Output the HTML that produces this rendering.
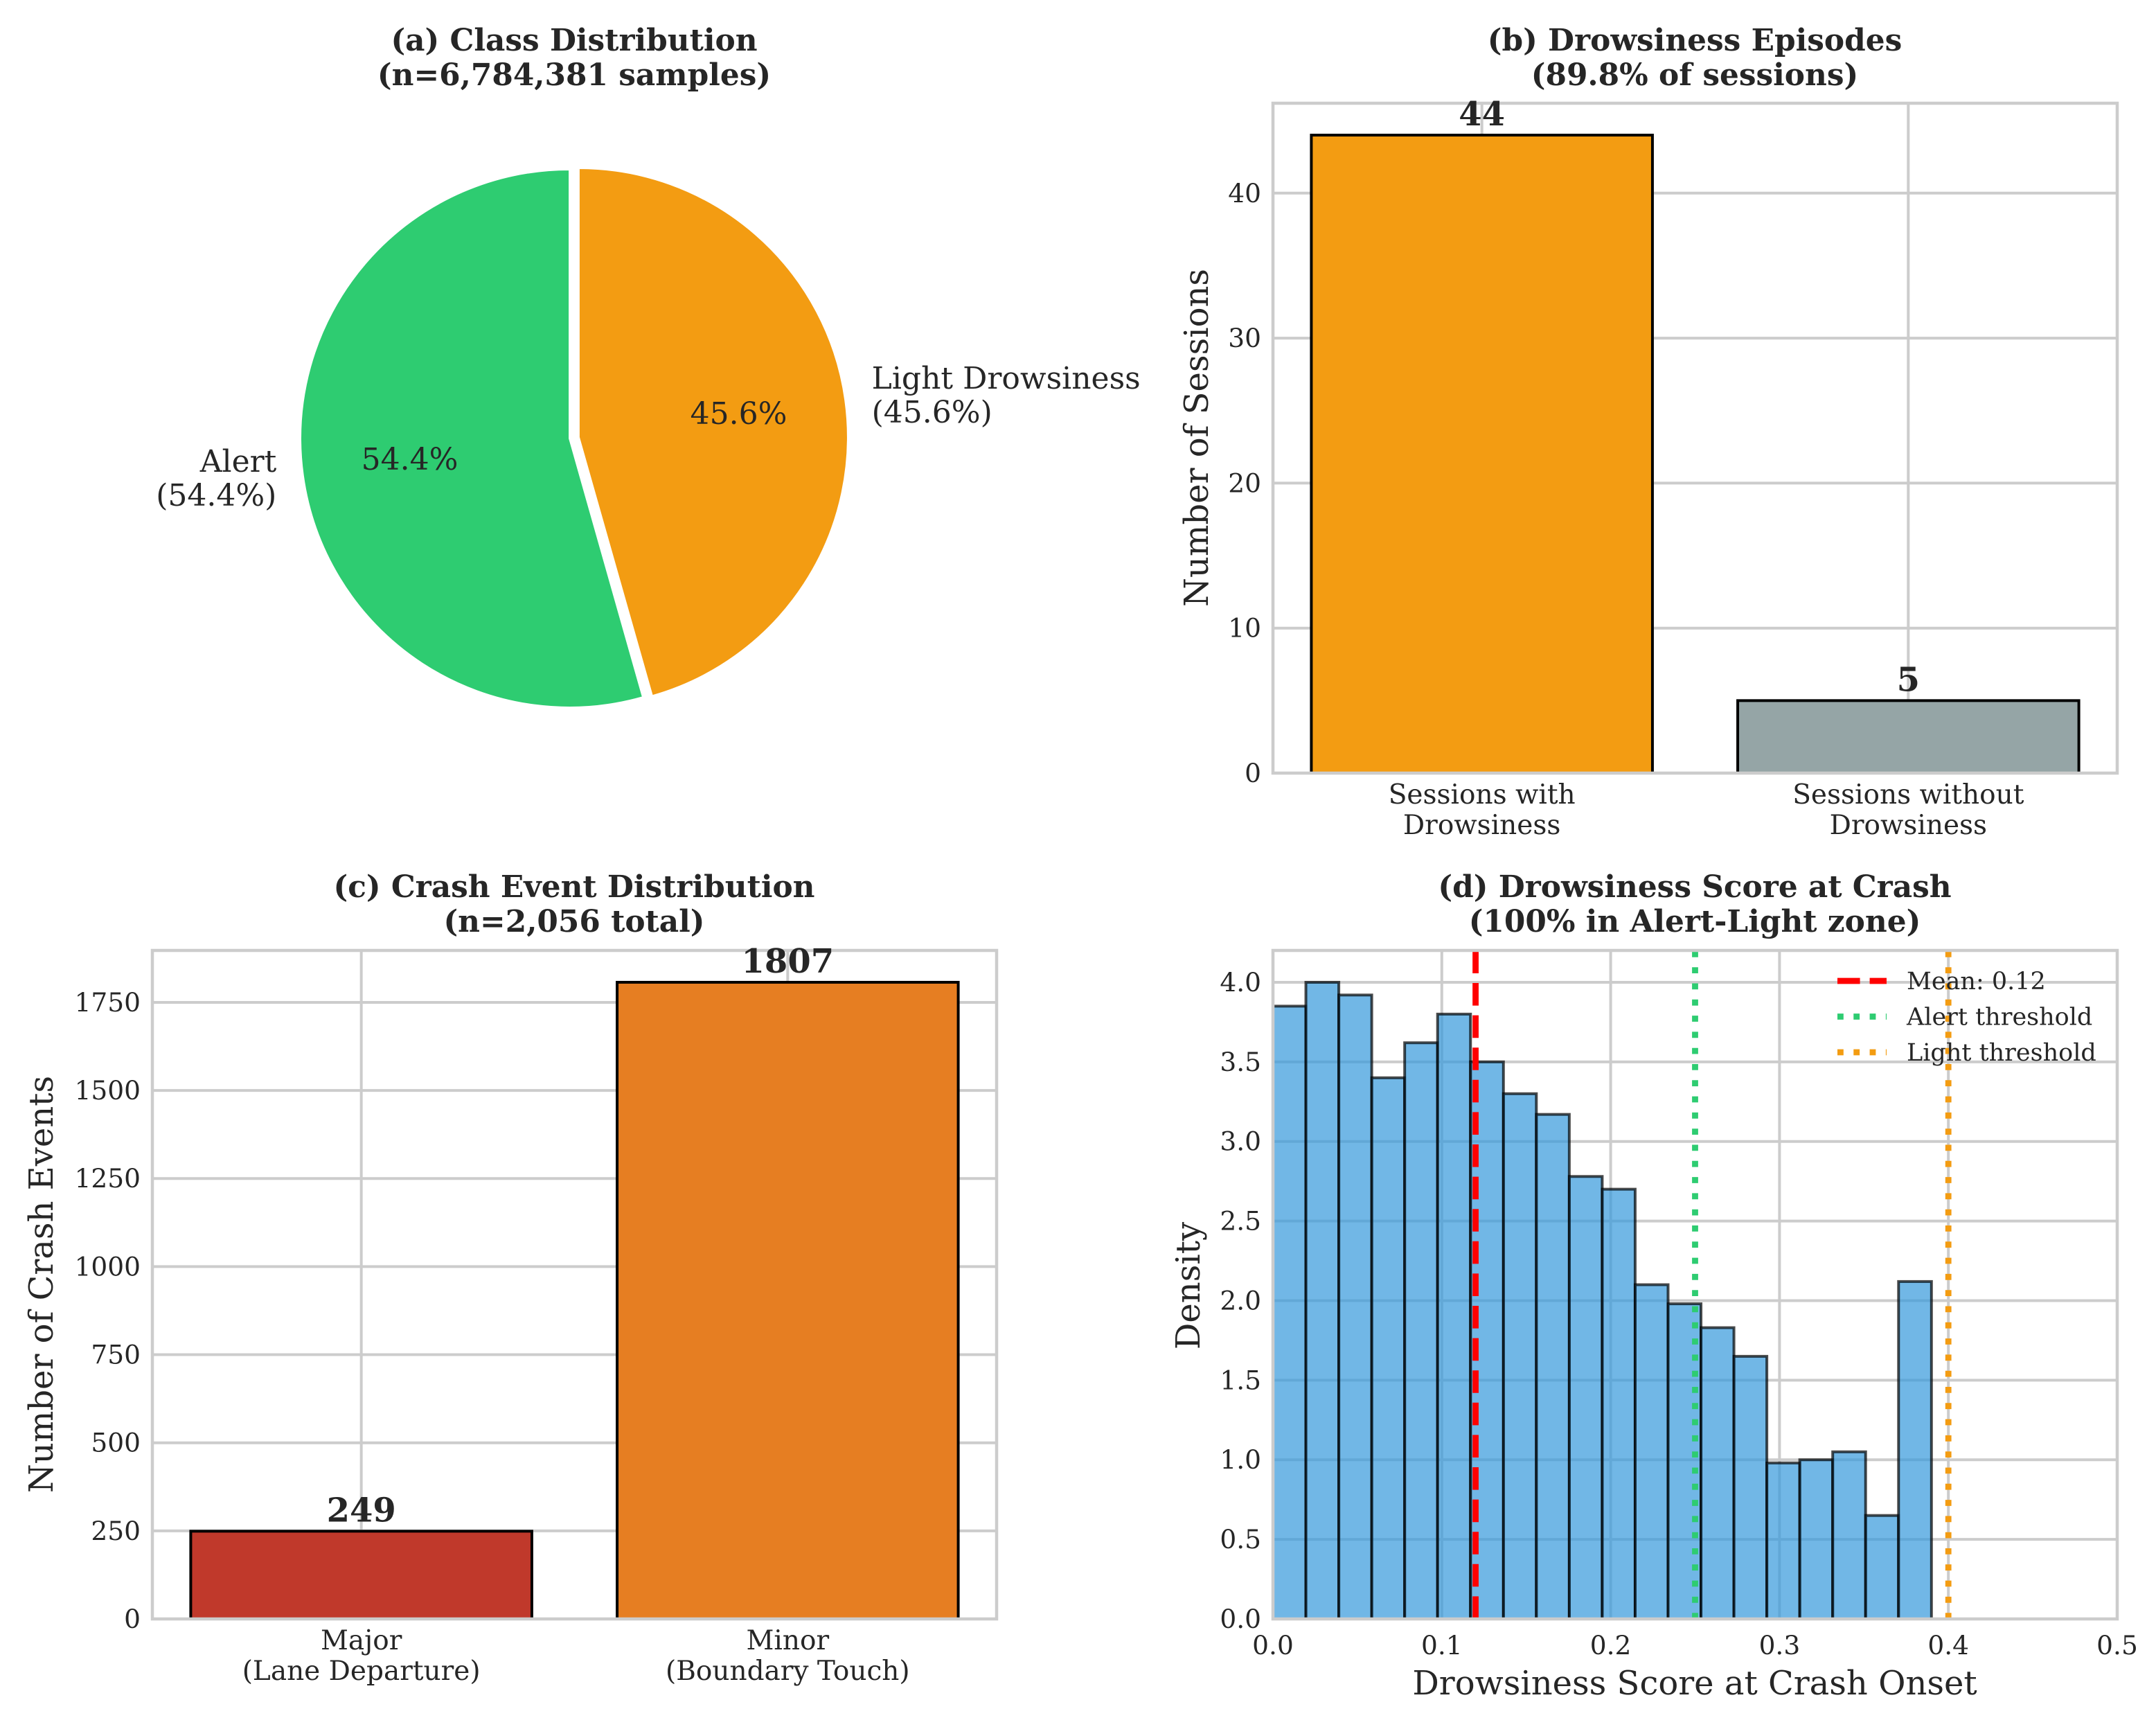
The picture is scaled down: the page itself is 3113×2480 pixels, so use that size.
<!DOCTYPE html>
<html lang="en">
<head>
<meta charset="utf-8">
<title>Drowsiness Dashboard</title>
<style>
html,body{margin:0;padding:0;background:#fff;}
svg{display:block;}
text{font-family:"DejaVu Serif","Liberation Serif",serif;fill:#262626;}
.title{font-size:43.8px;font-weight:bold;text-anchor:middle;}
.axis-label{font-size:48px;text-anchor:middle;}
.tick{font-size:37.5px;}
.cat{font-size:39px;text-anchor:middle;}
.val{font-size:48px;font-weight:bold;text-anchor:middle;}
.pie-text{font-size:44px;}
.legend-text{font-size:35px;}
</style>
</head>
<body>
<svg id="chart" xmlns="http://www.w3.org/2000/svg" width="3113" height="2480" viewBox="0 0 3113 2480">
  <rect x="0" y="0" width="3113" height="2480" fill="#ffffff"/>
  <g id="panel-a">
    <text class="title" x="829" y="73">(a) Class Distribution</text>
    <text class="title" x="829" y="123">(n=6,784,381 samples)</text>
  </g>
  <g id="panel-b">
    <text class="title" x="2447" y="73">(b) Drowsiness Episodes</text>
    <text class="title" x="2447" y="123">(89.8% of sessions)</text>
    <text class="axis-label" transform="translate(1744 632) rotate(-90)">Number of Sessions</text>
  </g>
  <g id="panel-c">
    <text class="title" x="829" y="1295">(c) Crash Event Distribution</text>
    <text class="title" x="829" y="1345">(n=2,056 total)</text>
    <text class="axis-label" transform="translate(76 1854) rotate(-90)">Number of Crash Events</text>
  </g>
  <g id="panel-d">
    <text class="title" x="2447" y="1295">(d) Drowsiness Score at Crash</text>
    <text class="title" x="2447" y="1345">(100% in Alert-Light zone)</text>
    <text class="axis-label" transform="translate(1732 1856) rotate(-90)">Density</text>
    <text class="axis-label" x="2447" y="2446">Drowsiness Score at Crash Onset</text>
  </g>
</svg>
<script>
// ---- data ----
const pieLabels = ['Alert', 'Light Drowsiness'];
const pieShares = [54.4, 45.6];
const pieColors = ['#2ecc71', '#f39c12'];

const sessionCategories = [['Sessions with', 'Drowsiness'], ['Sessions without', 'Drowsiness']];
const sessionValues = [44, 5];
const sessionColors = ['#f39c12', '#95a5a6'];
const sessionTicks = [0, 10, 20, 30, 40];

const crashCategories = [['Major', '(Lane Departure)'], ['Minor', '(Boundary Touch)']];
const crashValues = [249, 1807];
const crashColors = ['#c0392b', '#e67e22'];
const crashTicks = [0, 250, 500, 750, 1000, 1250, 1500, 1750];

const histDensity = [3.85, 4.0, 3.92, 3.4, 3.62, 3.8, 3.5, 3.3, 3.17, 2.78, 2.7, 2.1, 1.98, 1.83, 1.65, 0.98, 1.0, 1.05, 0.65, 2.12];
const histBinWidth = 0.0195;
const histXTicks = ['0.0', '0.1', '0.2', '0.3', '0.4', '0.5'];
const histYTicks = ['0.0', '0.5', '1.0', '1.5', '2.0', '2.5', '3.0', '3.5', '4.0'];
const meanScore = 0.12;
const alertThreshold = 0.25;
const lightThreshold = 0.4;
const legendLabels = ['Mean: 0.12', 'Alert threshold', 'Light threshold'];

// ---- helpers ----
const NS = 'http://www.w3.org/2000/svg';
function make(tag, parent, props) {
  const el = document.createElementNS(NS, tag);
  for (const k in props) el.setAttribute(k, props[k]);
  parent.appendChild(el);
  return el;
}
function label(parent, x, y, str, cls, extra) {
  const el = make('text', parent, Object.assign({x: x, y: y, class: cls}, extra || {}));
  el.textContent = str;
  return el;
}
const GRID = '#cccccc';
const GRID_W = 4;
const SPINE_W = 4.5;
const LINE_W = 8.8;

function drawGrid(g, box, xPositions, yPositions) {
  xPositions.forEach(function (px) {
    const el = make('line', g, {x1: px, x2: px, y1: box.top, y2: box.bottom, stroke: GRID, 'stroke-width': GRID_W});
    
    
  });
  yPositions.forEach(function (py) {
    const el = make('line', g, {x1: box.left, x2: box.right, y1: py, y2: py, stroke: GRID, 'stroke-width': GRID_W});
    
    
  });
}
function drawFrame(g, box) {
  const el = make('rect', g, {x: box.left, y: box.top, width: box.right - box.left, height: box.bottom - box.top, fill: 'none', stroke: GRID, 'stroke-width': SPINE_W});
  
  
}

function drawBarPanel(g, box, categories, values, colors, ticks) {
  const yMax = Math.max.apply(null, values) * 1.05;
  const xMin = -0.49, xMax = values.length - 1 + 0.49;
  const xScale = function (v) { return box.left + (v - xMin) / (xMax - xMin) * (box.right - box.left); };
  const yScale = function (v) { return box.bottom - v / yMax * (box.bottom - box.top); };
  drawGrid(g, box, values.map(function (_, i) { return xScale(i); }), ticks.map(yScale));
  values.forEach(function (v, i) {
    const bar = make('rect', g, {
      x: xScale(i - 0.4), y: yScale(v),
      width: xScale(i + 0.4) - xScale(i - 0.4), height: yScale(0) - yScale(v),
      fill: colors[i], stroke: '#000000', 'stroke-width': 4
    });
    
    
  });
  drawFrame(g, box);
  values.forEach(function (v, i) {
    const t = label(g, xScale(i), yScale(v) - 14, String(v), 'val');
    
    
    categories[i].forEach(function (line, j) {
      const c = label(g, xScale(i), box.bottom + 44 + j * 44, line, 'cat');
      
      
    });
  });
  ticks.forEach(function (v) {
    const t = label(g, box.left - 17, yScale(v) + 13, String(v), 'tick', {'text-anchor': 'end'});
    
    
  });
}

// ---- panel a: pie ----
(function () {
  const g = document.getElementById('panel-a');
  const cx = 829, cy = 632, r = 388, explode = 0.018;
  const total = pieShares.reduce(function (a, b) { return a + b; }, 0);
  let start = 90;
  pieShares.forEach(function (share, i) {
    const sweep = share / total * 360;
    const end = start + sweep;
    const mid = (start + end) / 2 * Math.PI / 180;
    const ox = cx + Math.cos(mid) * r * explode;
    const oy = cy - Math.sin(mid) * r * explode;
    const a0 = start * Math.PI / 180, a1 = end * Math.PI / 180;
    const d = 'M' + ox + ' ' + oy +
      'L' + (ox + r * Math.cos(a0)) + ' ' + (oy - r * Math.sin(a0)) +
      'A' + r + ' ' + r + ' 0 ' + (sweep > 180 ? 1 : 0) + ' 0 ' + (ox + r * Math.cos(a1)) + ' ' + (oy - r * Math.sin(a1)) + 'Z';
    const slice = make('path', g, {d: d, fill: pieColors[i], stroke: '#ffffff', 'stroke-width': 2});
    
    

    const pct = share.toFixed(1) + '%';
    const pt = label(g, ox + 0.6 * r * Math.cos(mid), oy - 0.6 * r * Math.sin(mid) + 13, pct, 'pie-text', {'text-anchor': 'middle'});
    
    

    const lx = ox + 1.1 * r * Math.cos(mid);
    const ly = oy - 1.1 * r * Math.sin(mid);
    const anchor = Math.cos(mid) >= 0 ? 'start' : 'end';
    const l1 = label(g, lx, ly - 11, pieLabels[i], 'pie-text', {'text-anchor': anchor});
    
    
    const l2 = label(g, lx, ly + 38, '(' + pct + ')', 'pie-text', {'text-anchor': anchor});
    
    
    start = end;
  });
})();

// ---- panels b, c: bars ----
drawBarPanel(document.getElementById('panel-b'), {left: 1838, right: 3057, top: 149, bottom: 1116}, sessionCategories, sessionValues, sessionColors, sessionTicks);
drawBarPanel(document.getElementById('panel-c'), {left: 220, right: 1439, top: 1372, bottom: 2337}, crashCategories, crashValues, crashColors, crashTicks);

// ---- panel d: histogram ----
(function () {
  const g = document.getElementById('panel-d');
  const box = {left: 1838, right: 3057, top: 1372, bottom: 2337};
  const xMax = 0.5, yMax = 4.2;
  const xScale = function (v) { return box.left + v / xMax * (box.right - box.left); };
  const yScale = function (v) { return box.bottom - v / yMax * (box.bottom - box.top); };
  drawGrid(g, box, histXTicks.map(function (t) { return xScale(parseFloat(t)); }), histYTicks.map(function (t) { return yScale(parseFloat(t)); }));
  histDensity.forEach(function (v, i) {
    const bar = make('rect', g, {
      x: xScale(i * histBinWidth), y: yScale(v),
      width: xScale(histBinWidth) - xScale(0), height: yScale(0) - yScale(v),
      fill: 'rgba(52,152,219,0.7)', stroke: 'rgba(0,0,0,0.7)', 'stroke-width': 4
    });
    
    
  });
  const meanLine = make('line', g, {x1: xScale(meanScore), x2: xScale(meanScore), y1: box.bottom, y2: box.top, stroke: '#ff0000', 'stroke-width': LINE_W, 'stroke-dasharray': '32.6 14'});
  
  
  const alertLine = make('line', g, {x1: xScale(alertThreshold), x2: xScale(alertThreshold), y1: box.bottom, y2: box.top, stroke: '#2ecc71', 'stroke-width': LINE_W, 'stroke-dasharray': '8.8 14.5'});
  
  
  const lightLine = make('line', g, {x1: xScale(lightThreshold), x2: xScale(lightThreshold), y1: box.bottom, y2: box.top, stroke: '#f39c12', 'stroke-width': LINE_W, 'stroke-dasharray': '8.8 14.5'});
  
  
  drawFrame(g, box);

  histYTicks.forEach(function (t) {
    const el = label(g, box.left - 17, yScale(parseFloat(t)) + 13, t, 'tick', {'text-anchor': 'end'});
    
    
  });
  histXTicks.forEach(function (t) {
    const el = label(g, xScale(parseFloat(t)), box.bottom + 51, t, 'tick', {'text-anchor': 'middle'});
    
    
  });

  const legendStyles = [['#ff0000', '32.6 14'], ['#2ecc71', '8.8 14.5'], ['#f39c12', '8.8 14.5']];
  legendLabels.forEach(function (name, i) {
    const y = 1416 + i * 51.5;
    const handle = make('line', g, {x1: 2653, x2: 2724, y1: y, y2: y, stroke: legendStyles[i][0], 'stroke-width': LINE_W, 'stroke-dasharray': legendStyles[i][1]});
    
    
    const el = label(g, 2753, y + 12, name, 'legend-text');
    
    
  });
})();
</script>
</body>
</html>
